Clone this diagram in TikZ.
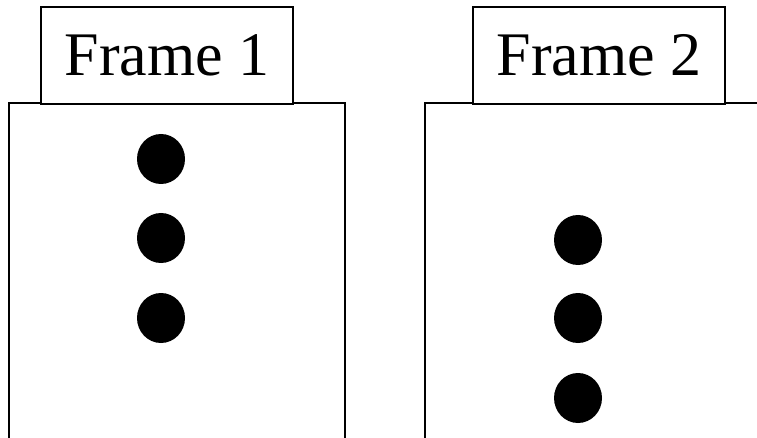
\documentclass[tikz,border=0pt]{standalone}
\usepackage{fontspec}
\setmainfont{Liberation Serif}
\usetikzlibrary{shapes.geometric}
\begin{document}
\begin{tikzpicture}[x=1pt,y=-1pt,
  frameline/.style={line width=1.5pt,line cap=rect},
  labelbox/.style={draw,line width=1.5pt,fill=white,inner sep=0pt,
    minimum width=252pt,minimum height=97pt,
    font=\fontsize{62}{62}\selectfont},
  dot/.style={ellipse,fill=black,inner sep=0pt,minimum width=48pt,minimum height=50pt}]
\useasboundingbox (0,0) rectangle (757,438);
% frame outlines (open at the bottom)
\coordinate (f1bl) at (9,440);
\coordinate (f1tl) at (9,103);
\coordinate (f1tr) at (345,103);
\coordinate (f1br) at (345,440);
\draw[frameline] (f1bl) -- (f1tl) -- (f1tr) -- (f1br);
\coordinate (f2bl) at (425,440);
\coordinate (f2tl) at (425,103);
\coordinate (f2tr) at (760,103);
\draw[frameline] (f2bl) -- (f2tl) -- (f2tr);
% labels
\node[labelbox] (lab1) at (167,55.5) {Frame 1};
\node[labelbox] (lab2) at (599,55.5) {Frame 2};
% dots
\node[dot] (a1) at (161,159) {};
\node[dot] (a2) at (161,238) {};
\node[dot] (a3) at (161,318) {};
\node[dot] (b1) at (578,240) {};
\node[dot] (b2) at (578,318) {};
\node[dot] (b3) at (578,398) {};
\end{tikzpicture}
\end{document}
